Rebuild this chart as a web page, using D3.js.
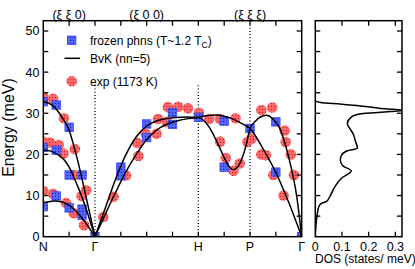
<!DOCTYPE html>
<html><head><meta charset="utf-8">
<script src="https://cdn.jsdelivr.net/npm/d3@7"></script>
<style>
body{margin:0;background:#fff}
svg{display:block}
text{font-family:"Liberation Sans",Arial,Helvetica,sans-serif;fill:#000}
</style>
</head><body>
<svg id="c" width="415" height="269"></svg>
<script>
// ---------- data ----------
const kPos = [0, 1, 3, 4, 5];
const kLabels = ["N", "Γ", "H", "P", "Γ"];
const dirPos = [0.5, 2, 4];
const dirLabels = ["(ξ ξ 0)", "(ξ 0 0)", "(ξ ξ ξ)"];
const yTickLabels = [0, 10, 20, 30, 40, 50];
const dosTickLabels = [0, 0.1, 0.2, 0.3];

// frozen phonons (T~1.2 Tc)
const frozenQ = [0, 0.25, 0.5, 0, 0.25, 0.5, 0.75, 0, 0.25, 0.5, 0.75, 0.75, 1,
                 1.5, 1.5, 2, 2, 2.5, 2.5, 3,
                 3.5, 3.5, 4, 4.5, 4.5, 5];
const frozenE = [32.8, 32.0, 26.6, 21.7, 21.0, 15.0, 15.0, 7.3, 9.9, 7.0, 6.7, 5.2, 0,
                 16.9, 14.8, 27.4, 24.1, 30.2, 27.3, 29.0,
                 28.1, 16.9, 26.3, 27.9, 15.7, 0];

// experiment (1173 K)
const expQ = [0, 0.19, 0.40, 0, 0.13, 0.30, 0.39, 0.61, 0.59, 0, 0.19, 0.44, 0.59, 0.74, 0.83, 0.79,
              1.16, 1.36, 1.60, 1.84, 1.82, 1.98, 2.19, 2.22, 2.39, 2.41, 2.61, 2.80, 3.01,
              3.21, 3.42, 3.72, 3.42, 3.53, 3.68, 3.80, 3.95, 4.03,
              4.22, 4.43, 4.22, 4.31, 4.67, 4.69, 4.79, 4.45, 4.85, 4.65, 5.0];
const expE = [34.0, 33.5, 28.8, 23.1, 22.9, 22.3, 20.2, 21.3, 15.0, 11.1, 10.4, 8.2, 5.7, 9.9, 11.3, 2.8,
              4.8, 9.7, 14.9, 19.6, 22.8, 25.0, 25.0, 28.6, 27.9, 31.5, 31.6, 31.2, 30.1,
              28.6, 28.6, 28.8, 23.1, 19.1, 16.0, 17.8, 23.0, 23.8,
              30.8, 31.4, 20.0, 19.8, 25.8, 23.0, 20.0, 15.0, 15.0, 10.0, 0];

// Born-von Karman (nn=5) branches, [q, E]
const bvkNG1 = [[0,32.8],[0.1,32.5],[0.2,31.7],[0.3,30.2],[0.4,28.3],[0.5,25.9],[0.6,21.6],[0.67,18.3],[0.75,14.0],[0.85,8.4],[0.93,3.9],[1,0]];
const bvkNG2 = [[0,21.1],[0.15,20.8],[0.3,19.8],[0.41,18.6],[0.5,16.9],[0.6,14.2],[0.7,11.2],[0.8,7.8],[0.9,4.0],[1,0]];
const bvkNG3 = [[0,8.3],[0.1,8.5],[0.2,8.7],[0.35,8.5],[0.5,7.6],[0.6,6.6],[0.7,5.3],[0.8,3.7],[0.9,1.9],[1,0]];
const bvkGH1 = [[1,0],[1.2,7.0],[1.4,14.0],[1.6,20.0],[1.8,24.3],[2.0,26.9],[2.2,28.2],[2.5,28.9],[2.8,29.1],[3,29.0]];
const bvkGH2 = [[1,0],[1.2,5.5],[1.4,10.8],[1.6,15.8],[1.8,20.0],[2.0,23.6],[2.2,26.0],[2.4,27.4],[2.6,28.2],[2.8,28.7],[3,29.0]];
const bvkHPG1 = [[3,29.0],[3.15,29.4],[3.35,29.6],[3.5,29.3],[3.65,28.7],[3.8,27.8],[3.9,27.1],[4,26.3],[4.25,21.4],[4.5,15.6],[4.75,8.3],[5,0]];
const bvkHPG2 = [[3,29.0],[3.1,28.3],[3.2,26.8],[3.3,24.6],[3.4,22.0],[3.5,19.2],[3.6,17.0],[3.67,16.3],[3.75,16.8],[3.85,19.2],[3.93,22.5],[4,26.3],[4.1,28.0],[4.2,29.1],[4.32,29.5],[4.45,28.5],[4.58,26.2],[4.68,22.5],[4.77,18.2],[4.9,10.1],[5,0]];
const bvkBranches = [bvkNG1, bvkNG2, bvkNG3, bvkGH1, bvkGH2, bvkHPG1, bvkHPG2];

// phonon DOS
const dosE = [0, 3.2, 5.7, 7.3, 8.1, 8.5, 9.7, 12.1, 14.2, 16.0, 17.2, 18.6, 19.8, 20.9, 21.5, 23.3, 25.1, 26.3, 27.5, 28.7, 29.5, 29.9, 30.3, 30.7, 31.1, 31.6, 32.2, 32.6, 33.0];
const dosV = [0, 0.003, 0.008, 0.013, 0.023, 0.041, 0.054, 0.073, 0.098, 0.135, 0.104, 0.094, 0.098, 0.12, 0.158, 0.15, 0.141, 0.129, 0.12, 0.129, 0.148, 0.173, 0.26, 0.33, 0.26, 0.198, 0.098, 0.02, 0];

// ---------- drawing ----------
const svg = d3.select("#c");
const L = 43.3, R = 301.7, T = 20.7, B = 236.7;
const DL = 315.3, DR = 402;
const x = d3.scaleLinear().domain([0, 5]).range([L, R]);
const y = d3.scaleLinear().domain([0, 52.5]).range([B, T]);
const xd = d3.scaleLinear().domain([0, 0.325]).range([DL, DR]);

const defs = svg.append("defs");
const pb = defs.append("pattern").attr("id", "pb").attr("width", 3).attr("height", 3).attr("patternUnits", "userSpaceOnUse");
pb.append("rect").attr("width", 3).attr("height", 3).attr("fill", "#5566ff");
pb.append("rect").attr("x", 1).attr("y", 1).attr("width", 1).attr("height", 1).attr("fill", "#1a1aa0");
const pr = defs.append("pattern").attr("id", "pr").attr("width", 3).attr("height", 3).attr("patternUnits", "userSpaceOnUse");
pr.append("rect").attr("width", 3).attr("height", 3).attr("fill", "#ff6868");
pr.append("rect").attr("x", 1).attr("y", 1).attr("width", 1).attr("height", 1).attr("fill", "#c02020");
defs.append("clipPath").attr("id", "cm").append("rect").attr("x", L).attr("y", T).attr("width", R - L).attr("height", B - T);
defs.append("clipPath").attr("id", "cd").append("rect").attr("x", DL).attr("y", T).attr("width", DR - DL).attr("height", B - T);

// dotted symmetry lines
const vlines = [{q: 1, top: 36.8}, {q: 3, top: 36.8}, {q: 4, top: 51.3}];
svg.append("g").selectAll("line").data(vlines).join("line")
  .attr("x1", d => x(d.q)).attr("x2", d => x(d.q))
  .attr("y1", B).attr("y2", d => y(d.top))
  .attr("stroke", "#000").attr("stroke-width", 1.3).attr("stroke-dasharray", "1,2.2");

const gm = svg.append("g").attr("clip-path", "url(#cm)");
// experiment circles
gm.append("g").selectAll("circle").data(expQ.map((q, i) => [q, expE[i]])).join("circle")
  .attr("cx", d => x(d[0])).attr("cy", d => y(d[1])).attr("r", 5.3)
  .attr("fill", "url(#pr)");
// frozen squares
const S = 8.4;
gm.append("g").selectAll("rect").data(frozenQ.map((q, i) => [q, frozenE[i]])).join("rect")
  .attr("x", d => x(d[0]) - S / 2).attr("y", d => y(d[1]) - S / 2)
  .attr("width", S).attr("height", S)
  .attr("fill", "url(#pb)").attr("stroke", "#3344ee").attr("stroke-width", 0.8);
// BvK lines
const line = d3.line().x(d => x(d[0])).y(d => y(d[1])).curve(d3.curveMonotoneX);
gm.append("g").selectAll("path").data(bvkBranches).join("path")
  .attr("d", line).attr("fill", "none").attr("stroke", "#000").attr("stroke-width", 1.5);

// DOS curve
const dline = d3.line().x(d => xd(d[1])).y(d => y(d[0])).curve(d3.curveMonotoneY);
svg.append("g").attr("clip-path", "url(#cd)").append("path")
  .datum(dosE.map((e, i) => [e, dosV[i]]))
  .attr("d", dline).attr("fill", "none").attr("stroke", "#000").attr("stroke-width", 1.5);

// frames
[[L, R], [DL, DR]].forEach(([a, b]) => {
  svg.append("rect").attr("x", a).attr("y", T).attr("width", b - a).attr("height", B - T)
    .attr("fill", "none").attr("stroke", "#000").attr("stroke-width", 1.5);
});

// ticks
const TK = 5;
const tk = svg.append("g").attr("stroke", "#000").attr("stroke-width", 1.3);
const yt = d3.range(5, 52, 5);
yt.forEach(v => {
  [[L, 1], [R, -1], [DL, 1], [DR, -1]].forEach(([xx, s]) => {
    tk.append("line").attr("x1", xx).attr("x2", xx + s * TK).attr("y1", y(v)).attr("y2", y(v));
  });
});
d3.range(0.5, 5, 0.5).forEach(q => {
  tk.append("line").attr("x1", x(q)).attr("x2", x(q)).attr("y1", B).attr("y2", B - TK);
  tk.append("line").attr("x1", x(q)).attr("x2", x(q)).attr("y1", T).attr("y2", T + TK);
});
[0.1, 0.2, 0.3].forEach(v => {
  tk.append("line").attr("x1", xd(v)).attr("x2", xd(v)).attr("y1", B).attr("y2", B - TK);
  tk.append("line").attr("x1", xd(v)).attr("x2", xd(v)).attr("y1", T).attr("y2", T + TK);
});

// tick labels
svg.append("g").selectAll("text").data(yTickLabels).join("text")
  .attr("x", 39.5).attr("y", d => y(d)).attr("dy", "0.35em")
  .attr("text-anchor", "end").attr("font-size", 12.5).text(d => d);
svg.append("g").selectAll("text").data(kLabels).join("text")
  .attr("x", (d, i) => x(kPos[i])).attr("y", 250.5)
  .attr("text-anchor", "middle").attr("font-size", 12.5).text(d => d);
svg.append("g").selectAll("text").data(dosTickLabels).join("text")
  .attr("x", d => xd(d)).attr("y", 250.5)
  .attr("text-anchor", "middle").attr("font-size", 12.5).text(d => d);
svg.append("g").selectAll("text").data(dirLabels).join("text")
  .attr("x", (d, i) => x(dirPos[i])).attr("y", 18.5)
  .attr("text-anchor", "middle").attr("font-size", 12.5).text(d => d);

// axis titles
svg.append("text").attr("transform", "translate(14,127.5) rotate(-90)")
  .attr("text-anchor", "middle").attr("font-size", 16).text("Energy (meV)");
svg.append("text").attr("x", 315).attr("y", 263)
  .attr("font-size", 12).text("DOS (states/ meV)");

// legend
const lg = svg.append("g");
lg.append("rect").attr("x", 71.7 - S / 2).attr("y", 40.2 - S / 2).attr("width", S).attr("height", S)
  .attr("fill", "url(#pb)").attr("stroke", "#3344ee").attr("stroke-width", 0.8);
const t1 = lg.append("text").attr("x", 90).attr("y", 44.5).attr("font-size", 12);
t1.append("tspan").text("frozen phns (T~1.2 T");
t1.append("tspan").attr("font-size", 8.5).attr("dy", 3).text("C");
t1.append("tspan").attr("dy", -3).text(")");
lg.append("line").attr("x1", 64.5).attr("x2", 80).attr("y1", 58.3).attr("y2", 58.3)
  .attr("stroke", "#000").attr("stroke-width", 1.5);
lg.append("text").attr("x", 90).attr("y", 62.6).attr("font-size", 12).text("BvK (nn=5)");
lg.append("circle").attr("cx", 71.7).attr("cy", 81.3).attr("r", 5.3).attr("fill", "url(#pr)");
lg.append("text").attr("x", 90).attr("y", 85.6).attr("font-size", 12).text("exp (1173 K)");
</script>
</body></html>
